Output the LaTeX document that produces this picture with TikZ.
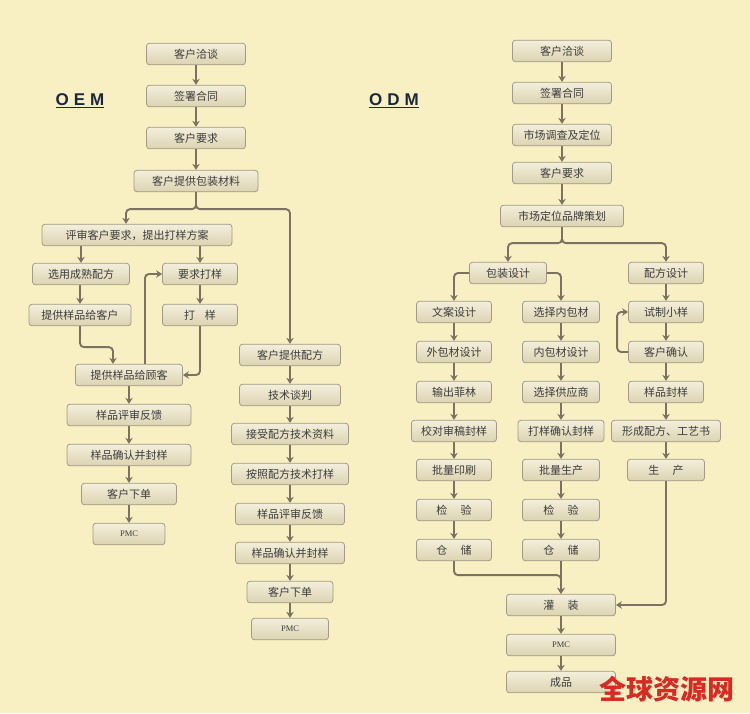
\documentclass[tikz,border=0pt]{standalone}
\usepackage{fontspec}
\setmainfont{Noto Sans CJK SC}
\newfontfamily\titlefont{Liberation Sans}
\newfontfamily\pmcfont{Liberation Serif}
\usetikzlibrary{arrows.meta}

\definecolor{paper}{HTML}{F8F0C2}
\definecolor{boxtop}{HTML}{F4EFDC}
\definecolor{boxbot}{HTML}{DCD3B0}
\definecolor{boxline}{HTML}{A29A86}
\definecolor{arr}{HTML}{7C7262}
\definecolor{txt}{HTML}{3C3C3C}
\definecolor{navy}{HTML}{1C2740}
\definecolor{markred}{HTML}{D82A22}

\begin{document}
\begin{tikzpicture}[x=1pt,y=-1pt,
  box/.style={draw=boxline,line width=0.8pt,rounded corners=3pt,top color=boxtop,bottom color=boxbot,
    minimum height=21.5pt,inner sep=0pt,text=txt,font=\fontsize{11}{12}\selectfont},
  flow/.style={draw=arr,line width=1.9pt,rounded corners=4pt,-{Stealth[length=6pt,width=7.5pt]}},
  title/.style={text=navy,font=\titlefont\bfseries\fontsize{17}{20}\selectfont},
  pmc/.style={font=\pmcfont\fontsize{8.5}{9}\selectfont}]
% paper background
\useasboundingbox (0,0) rectangle (750,713);
\fill[paper] (0,0) rectangle (750,713);

% ---------- OEM ----------
\node[title] (oem) at (80,101) {\underline{O\hspace{5pt}E\hspace{5pt}M}};
\node[box,minimum width=99] (lTalk) at (196,54) {客户洽谈};
\node[box,minimum width=99] (lSign) at (196,96) {签署合同};
\node[box,minimum width=99] (lReq) at (196,138) {客户要求};
\node[box,minimum width=124] (lPack) at (196,181) {客户提供包装材料};
\node[box,minimum width=190] (lReview) at (137,235) {评审客户要求，提出打样方案};
\node[box,minimum width=97] (lMature) at (81,274) {选用成熟配方};
\node[box,minimum width=75] (lAsk) at (200,274) {要求打样};
\node[box,minimum width=102] (lGive) at (80,315) {提供样品给客户};
\node[box,minimum width=75] (lSample) at (200,315) {打\hspace{0.9em}样};
\node[box,minimum width=107] (lGiveCust) at (129,375) {提供样品给顾客};
\node[box,minimum width=124] (lFeed) at (129,415) {样品评审反馈};
\node[box,minimum width=124] (lSeal) at (129,455) {样品确认并封样};
\node[box,minimum width=95] (lOrder) at (129,494) {客户下单};
\node[box,minimum width=72,pmc] (lPmc) at (129,534) {PMC};

% customer gives formula
\node[box,minimum width=101] (mForm) at (290,355) {客户提供配方};
\node[box,minimum width=101] (mTalk) at (290,395) {技术谈判};
\node[box,minimum width=117] (mData) at (290,434) {接受配方技术资料};
\node[box,minimum width=117] (mTry) at (290,474) {按照配方技术打样};
\node[box,minimum width=109] (mFeed) at (290,514) {样品评审反馈};
\node[box,minimum width=109] (mSeal) at (290,553) {样品确认并封样};
\node[box,minimum width=86] (mOrder) at (290,592) {客户下单};
\node[box,minimum width=77,pmc] (mPmc) at (290,629) {PMC};

% OEM arrows
\draw[flow] (lTalk) -- (lSign);
\draw[flow] (lSign) -- (lReq);
\draw[flow] (lReq) -- (lPack);
\draw[flow] (lPack.south) -- ++(0,17) -| ([xshift=-11pt]lReview.north);
\draw[flow] (lPack.south) -- ++(0,17) -| (mForm.north);
\draw[flow] (lMature.north |- lReview.south) -- (lMature.north);
\draw[flow] (lAsk.north |- lReview.south) -- (lAsk.north);
\draw[flow] (lGive.north |- lMature.south) -- (lGive.north);
\draw[flow] (lAsk) -- (lSample);
\draw[flow] (lGive.south) -- ++(0,21) -| ([xshift=-16pt]lGiveCust.north);
\draw[flow] (lSample.south) |- (lGiveCust.east);
\draw[flow] ([xshift=16pt]lGiveCust.north) |- (lAsk.west);
\draw[flow] (lGiveCust) -- (lFeed);
\draw[flow] (lFeed) -- (lSeal);
\draw[flow] (lSeal) -- (lOrder);
\draw[flow] (lOrder) -- (lPmc);
\draw[flow] (mForm) -- (mTalk);
\draw[flow] (mTalk) -- (mData);
\draw[flow] (mData) -- (mTry);
\draw[flow] (mTry) -- (mFeed);
\draw[flow] (mFeed) -- (mSeal);
\draw[flow] (mSeal) -- (mOrder);
\draw[flow] (mOrder) -- (mPmc);

% ---------- ODM ----------
\node[title] (odm) at (394,101) {\underline{O\hspace{5pt}D\hspace{5pt}M}};
\node[box,minimum width=99] (rTalk) at (562,51) {客户洽谈};
\node[box,minimum width=99] (rSign) at (562,93) {签署合同};
\node[box,minimum width=99] (rMarket) at (562,135) {市场调查及定位};
\node[box,minimum width=99] (rReq) at (562,173) {客户要求};
\node[box,minimum width=123] (rBrand) at (562,216) {市场定位品牌策划};
\node[box,minimum width=77] (rPack) at (508,273) {包装设计};
\node[box,minimum width=75] (rForm) at (666,273) {配方设计};
\node[box,minimum width=75] (rCopy) at (454,312) {文案设计};
\node[box,minimum width=77] (rInner) at (561,312) {选择内包材};
\node[box,minimum width=75] (rTrial) at (666,312) {试制小样};
\node[box,minimum width=75] (rOuter) at (454,352) {外包材设计};
\node[box,minimum width=77] (rInDes) at (561,352) {内包材设计};
\node[box,minimum width=75] (rConfirm) at (666,352) {客户确认};
\node[box,minimum width=75] (rFilm) at (454,392) {输出菲林};
\node[box,minimum width=77] (rSupp) at (561,392) {选择供应商};
\node[box,minimum width=75] (rSealS) at (666,392) {样品封样};
\node[box,minimum width=85] (rProof) at (454,431) {校对审稿封样};
\node[box,minimum width=86] (rTrySeal) at (561,431) {打样确认封样};
\node[box,minimum width=109] (rCraft) at (666,431) {形成配方、工艺书};
\node[box,minimum width=75] (rPrint) at (454,470) {批量印刷};
\node[box,minimum width=77] (rMass) at (561,470) {批量生产};
\node[box,minimum width=77] (rProd) at (666,470) {生\hspace{1.2em}产};
\node[box,minimum width=75] (rCheckA) at (454,510) {检\hspace{1.2em}验};
\node[box,minimum width=77] (rCheckB) at (561,510) {检\hspace{1.2em}验};
\node[box,minimum width=75] (rStoreA) at (454,550) {仓\hspace{1.2em}储};
\node[box,minimum width=77] (rStoreB) at (561,550) {仓\hspace{1.2em}储};
\node[box,minimum width=109] (rFill) at (561,605) {灌\hspace{1.2em}装};
\node[box,minimum width=109,pmc] (rPmc) at (561,645) {PMC};
\node[box,minimum width=109] (rDone) at (561,682) {成品};

% ODM arrows
\draw[flow] (rTalk) -- (rSign);
\draw[flow] (rSign) -- (rMarket);
\draw[flow] (rMarket) -- (rReq);
\draw[flow] (rReq) -- (rBrand);
\draw[flow] (rBrand.south) -- ++(0,16) -| (rPack.north);
\draw[flow] (rBrand.south) -- ++(0,16) -| (rForm.north);
\draw[flow] (rPack.west) -| (rCopy.north);
\draw[flow] (rPack.east) -| (rInner.north);
\draw[flow] (rCopy) -- (rOuter);
\draw[flow] (rOuter) -- (rFilm);
\draw[flow] (rFilm) -- (rProof);
\draw[flow] (rProof) -- (rPrint);
\draw[flow] (rPrint) -- (rCheckA);
\draw[flow] (rCheckA) -- (rStoreA);
\draw[flow] (rInner) -- (rInDes);
\draw[flow] (rInDes) -- (rSupp);
\draw[flow] (rSupp) -- (rTrySeal);
\draw[flow] (rTrySeal) -- (rMass);
\draw[flow] (rMass) -- (rCheckB);
\draw[flow] (rCheckB) -- (rStoreB);
\draw[flow] (rForm) -- (rTrial);
\draw[flow] (rTrial) -- (rConfirm);
\draw[flow] (rConfirm.west) -- ++(-11,0) |- (rTrial.west);
\draw[flow] (rConfirm) -- (rSealS);
\draw[flow] (rSealS) -- (rCraft);
\draw[flow] (rCraft) -- (rProd);
\draw[flow] (rStoreA.south) -- ++(0,14) -| (rFill.north);
\draw[flow] (rStoreB) -- (rFill);
\draw[flow] (rProd.south) |- (rFill.east);
\draw[flow] (rFill) -- (rPmc);
\draw[flow] (rPmc) -- (rDone);

% watermark
\node[text=markred,font=\bfseries\fontsize{27}{30}\selectfont] (mark) at (667,689) {全球资源网};
\end{tikzpicture}
\end{document}
